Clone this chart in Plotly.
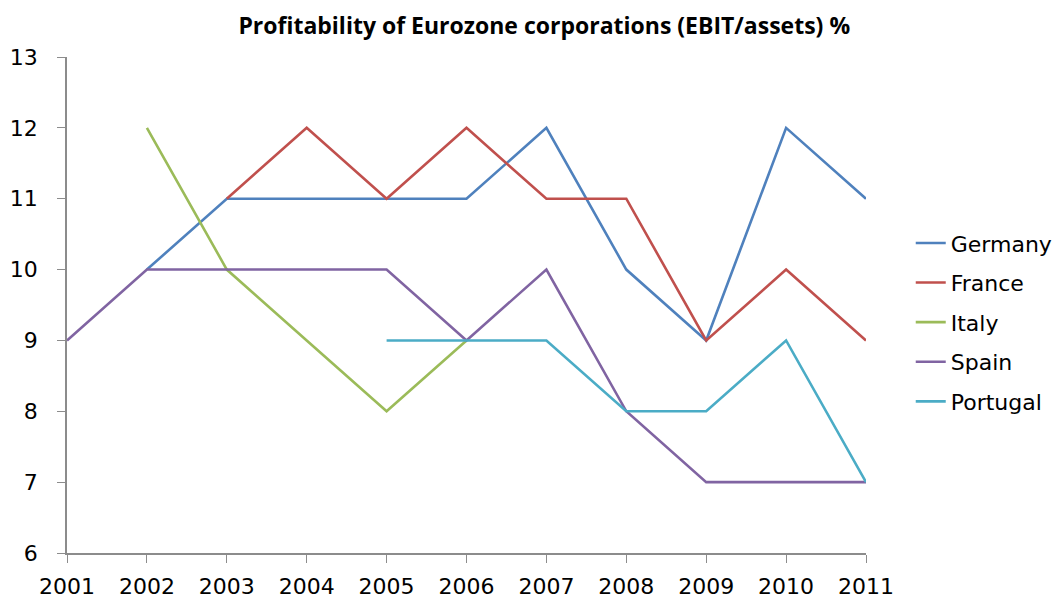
import plotly.graph_objects as go

# values (None = no data point)
years = [2001, 2002, 2003, 2004, 2005, 2006, 2007, 2008, 2009, 2010, 2011]
germany = [None, 10, 11, 11, 11, 11, 12, 10, 9, 12, 11]
france = [None, None, 11, 12, 11, 12, 11, 11, 9, 10, 9]
italy = [None, 12, 10, 9, 8, 9, None, None, None, None, None]
spain = [9, 10, 10, 10, 10, 9, 10, 8, 7, 7, 7]
portugal = [None, None, None, None, 9, 9, 9, 8, 8, 9, 7]

series = [
    ("Germany", germany, "#4F81BD"),
    ("France", france, "#C0504D"),
    ("Italy", italy, "#9BBB59"),
    ("Spain", spain, "#8064A2"),
    ("Portugal", portugal, "#4BACC6"),
]

fig = go.Figure()
for name, vals, color in series:
    fig.add_trace(go.Scatter(x=years, y=vals, name=name, mode="lines",
                             line=dict(color=color, width=2.6),
                             legendgroup=name, cliponaxis=False))

font = "DejaVu Sans, sans-serif"

fig.update_layout(
    width=1064, height=603,
    # page body has an 8px margin, so these are shifted accordingly
    margin=dict(l=59, r=206, t=49, b=58, autoexpand=False),
    plot_bgcolor="white", paper_bgcolor="white",
    font=dict(family=font, size=22, color="#000000"),
    title=dict(text="<b>Profitability of Eurozone corporations (EBIT/assets) %</b>",
               x=0.504, xanchor="center", y=0.971, yanchor="middle",
               font=dict(size=23, family="Open Sans, sans-serif")),
    legend=dict(x=1.056, xanchor="left", y=0.667, yanchor="top",
                font=dict(size=22), itemwidth=30, traceorder="grouped",
                tracegroupgap=8, bgcolor="rgba(0,0,0,0)"),
    showlegend=True,
)
fig.update_xaxes(range=[2001, 2011], tickmode="array", tickvals=years,
                 showgrid=False, zeroline=False, showline=True,
                 linecolor="#8C8C8C", linewidth=1.5,
                 ticks="outside", ticklen=8, tickcolor="#8C8C8C",
                 ticklabelstandoff=5, automargin=False)
fig.update_yaxes(range=[6, 13], dtick=1, showgrid=False, zeroline=False,
                 showline=True, linecolor="#8C8C8C", linewidth=1.5,
                 ticks="outside", ticklen=8, tickcolor="#8C8C8C",
                 ticklabelstandoff=15, automargin=False)

fig.write_html("out.html")
